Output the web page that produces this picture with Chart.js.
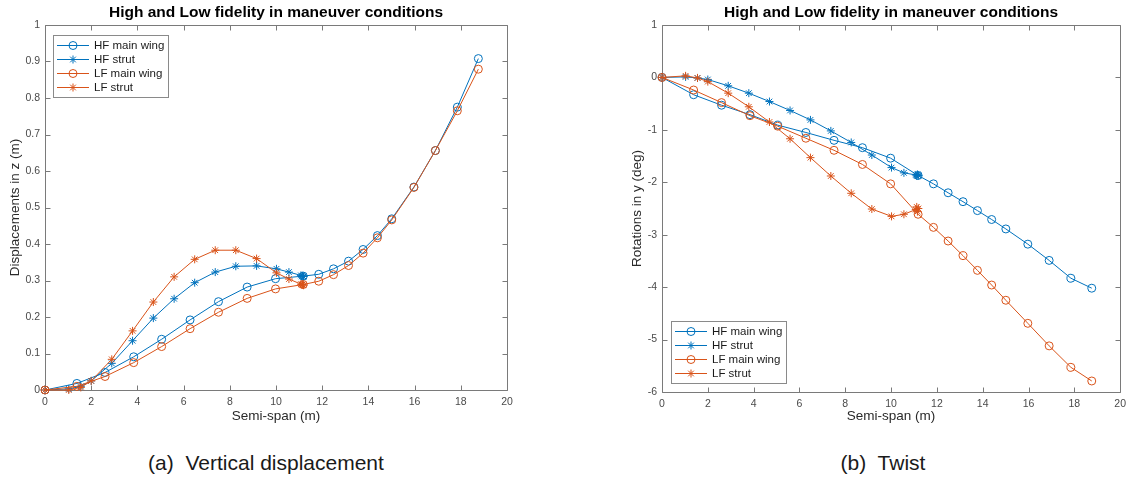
<!DOCTYPE html>
<html>
<head>
<meta charset="utf-8">
<script src="https://cdn.jsdelivr.net/npm/chart.js@4.4.1/dist/chart.umd.min.js"></script>
<style>
  html, body { margin: 0; padding: 0; background: #fff; }
  body { width: 1132px; height: 477px; position: relative; overflow: hidden;
         font-family: "Liberation Sans", Arial, Helvetica, sans-serif; }
  canvas { position: absolute; top: 0; }
  #dispChart { left: 0; }
  #twistChart { left: 560px; }
  .caption { position: absolute; top: 451px; font-size: 21px; line-height: 24px;
             color: #1a1a1a; white-space: pre; transform: translateX(-50%); }
</style>
</head>
<body>
<canvas id="dispChart" width="560" height="440"></canvas>
<canvas id="twistChart" width="572" height="440"></canvas>
<div class="caption" style="left:266px">(a)  Vertical displacement</div>
<div class="caption" style="left:883px">(b)  Twist</div>

<script>
// Spanwise stations (m)
const spanMain  = [0, 1.38, 2.6, 3.84, 5.05, 6.28, 7.51, 8.75, 9.98, 11.18, 11.85, 12.49, 13.14, 13.77, 14.39, 15.01, 15.97, 16.9, 17.85, 18.76];
const spanStrut = [0, 1.03, 1.55, 2.0, 2.89, 3.79, 4.69, 5.59, 6.48, 7.37, 8.26, 9.16, 10.02, 10.56, 11.08, 11.12, 11.15, 11.19];

// Vertical displacement (m)
const dispHFMain  = [0, 0.018, 0.048, 0.091, 0.139, 0.192, 0.242, 0.282, 0.305, 0.312, 0.317, 0.332, 0.353, 0.385, 0.423, 0.469, 0.556, 0.656, 0.775, 0.908];
const dispHFStrut = [0, 0.003, 0.010, 0.025, 0.073, 0.135, 0.197, 0.250, 0.294, 0.323, 0.339, 0.340, 0.332, 0.323, 0.314, 0.311, 0.313, 0.311];
const dispLFMain  = [0, 0.010, 0.037, 0.075, 0.119, 0.168, 0.213, 0.251, 0.277, 0.289, 0.298, 0.316, 0.341, 0.375, 0.417, 0.466, 0.555, 0.656, 0.765, 0.879];
const dispLFStrut = [0, 0.000, 0.007, 0.025, 0.084, 0.162, 0.241, 0.310, 0.358, 0.383, 0.383, 0.360, 0.321, 0.304, 0.290, 0.288, 0.289, 0.287];

// Twist (deg)
const twistHFMain  = [0, -0.33, -0.53, -0.71, -0.91, -1.05, -1.20, -1.34, -1.54, -1.87, -2.03, -2.20, -2.37, -2.54, -2.71, -2.89, -3.18, -3.49, -3.83, -4.02];
const twistHFStrut = [0, 0.01, -0.01, -0.04, -0.16, -0.30, -0.46, -0.63, -0.81, -1.02, -1.24, -1.48, -1.72, -1.82, -1.86, -1.88, -1.85, -1.87];
const twistLFMain  = [0, -0.24, -0.48, -0.73, -0.93, -1.16, -1.39, -1.66, -2.03, -2.61, -2.86, -3.12, -3.40, -3.68, -3.96, -4.25, -4.69, -5.12, -5.53, -5.79];
const twistLFStrut = [0, 0.03, -0.01, -0.08, -0.30, -0.56, -0.85, -1.17, -1.53, -1.88, -2.21, -2.51, -2.65, -2.61, -2.52, -2.47, -2.56, -2.50];

// Tick values
const spanTicks  = [0, 2, 4, 6, 8, 10, 12, 14, 16, 18, 20];
const dispTicks  = [0, 0.1, 0.2, 0.3, 0.4, 0.5, 0.6, 0.7, 0.8, 0.9, 1];
const twistTicks = [-6, -5, -4, -3, -2, -1, 0, 1];

const seriesLabels = ['HF main wing', 'HF strut', 'LF main wing', 'LF strut'];
const BLUE = '#0072BD';
const ORANGE = '#D95319';
const FONT = '"Liberation Sans", Arial, Helvetica, sans-serif';

function series(label, xs, ys, color, style, order) {
  return {
    label,
    data: xs.map((x, i) => ({ x, y: ys[i] })),
    borderColor: color,
    backgroundColor: 'rgba(0,0,0,0)',
    borderWidth: 1,
    pointStyle: style,
    pointRadius: 4,
    pointHoverRadius: 4,
    pointBorderWidth: 1,
    pointBorderColor: color,
    pointBackgroundColor: 'rgba(0,0,0,0)',
    tension: 0,
    clip: false,
    order
  };
}

function drawMarker(ctx, style, cx, cy, r) {
  ctx.beginPath();
  if (style === 'circle') {
    ctx.arc(cx, cy, r, 0, Math.PI * 2);
  } else {
    const d = r * Math.SQRT1_2;
    ctx.moveTo(cx - r, cy); ctx.lineTo(cx + r, cy);
    ctx.moveTo(cx, cy - r); ctx.lineTo(cx, cy + r);
    ctx.moveTo(cx - d, cy - d); ctx.lineTo(cx + d, cy + d);
    ctx.moveTo(cx - d, cy + d); ctx.lineTo(cx + d, cy - d);
  }
  ctx.stroke();
}

// Boxed axes with inward ticks, titles and a line+marker legend
const boxedAxes = {
  id: 'boxedAxes',
  beforeDatasetsDraw(chart, args, o) {
    const { ctx, chartArea: a, scales: { x, y } } = chart;
    const L = 5;
    ctx.save();
    ctx.strokeStyle = '#7a7a7a';
    ctx.lineWidth = 1;
    ctx.beginPath();
    const l = Math.round(a.left) + 0.5, r = Math.round(a.right) + 0.5;
    const t = Math.round(a.top) + 0.5, b = Math.round(a.bottom) + 0.5;
    ctx.rect(l, t, r - l, b - t);
    x.ticks.forEach(tk => {
      const px = Math.round(x.getPixelForValue(tk.value)) + 0.5;
      ctx.moveTo(px, b); ctx.lineTo(px, b - L);
      ctx.moveTo(px, t); ctx.lineTo(px, t + L);
    });
    y.ticks.forEach(tk => {
      const py = Math.round(y.getPixelForValue(tk.value)) + 0.5;
      ctx.moveTo(l, py); ctx.lineTo(l + L, py);
      ctx.moveTo(r, py); ctx.lineTo(r - L, py);
    });
    ctx.stroke();
    ctx.restore();
  },
  afterDraw(chart, args, o) {
    const { ctx, chartArea: a } = chart;
    const cx = (a.left + a.right) / 2;
    const cy = (a.top + a.bottom) / 2;
    ctx.save();
    // title
    ctx.fillStyle = '#000';
    ctx.font = 'bold 15.5px ' + FONT;
    ctx.textAlign = 'center';
    ctx.textBaseline = 'alphabetic';
    ctx.fillText(o.title, cx, 17);
    // axis titles
    ctx.fillStyle = '#2a2a2a';
    ctx.font = '13.5px ' + FONT;
    ctx.textBaseline = 'middle';
    ctx.fillText(o.xTitle, cx, 416);
    ctx.save();
    ctx.translate(o.yTitleX, cy);
    ctx.rotate(-Math.PI / 2);
    ctx.fillText(o.yTitle, 0, 0);
    ctx.restore();
    // legend
    const g = o.legend;
    ctx.fillStyle = '#fff';
    ctx.fillRect(g.x, g.y, g.w, g.h);
    ctx.strokeStyle = '#8a8a8a';
    ctx.lineWidth = 1;
    ctx.strokeRect(g.x + 0.5, g.y + 0.5, g.w, g.h);
    ctx.font = '11.5px ' + FONT;
    ctx.textAlign = 'left';
    ctx.textBaseline = 'middle';
    const step = 14.2;
    const first = g.y + g.h / 2 - 1.5 * step;
    chart.data.datasets.forEach((ds, i) => {
      const ry = Math.round(first + i * step) + 0.5;
      ctx.strokeStyle = ds.borderColor;
      ctx.lineWidth = 1;
      ctx.beginPath();
      ctx.moveTo(g.x + 4, ry); ctx.lineTo(g.x + 36, ry);
      ctx.stroke();
      drawMarker(ctx, ds.pointStyle, g.x + 20, ry, 4);
      ctx.fillStyle = '#1a1a1a';
      ctx.fillText(ds.label, g.x + 41, ry);
    });
    ctx.restore();
  }
};

function makeChart(id, spec) {
  const tickFont = { family: FONT, size: 10.5 };
  return new Chart(document.getElementById(id), {
    type: 'line',
    data: {
      datasets: [
        series(seriesLabels[0], spanMain,  spec.hfMain,  BLUE,   'circle', 4),
        series(seriesLabels[1], spanStrut, spec.hfStrut, BLUE,   'star',   3),
        series(seriesLabels[2], spanMain,  spec.lfMain,  ORANGE, 'circle', 2),
        series(seriesLabels[3], spanStrut, spec.lfStrut, ORANGE, 'star',   1)
      ]
    },
    options: {
      responsive: false,
      animation: false,
      devicePixelRatio: 1,
      layout: { padding: { left: 0, right: spec.padRight, top: 25, bottom: 0 } },
      plugins: {
        legend: { display: false },
        tooltip: { enabled: false },
        boxedAxes: spec.deco
      },
      scales: {
        x: {
          type: 'linear',
          min: 0, max: 20,
          afterBuildTicks: s => { s.ticks = spanTicks.map(v => ({ value: v })); },
          afterFit: s => { s.height = spec.xHeight; },
          grid: { display: false, drawTicks: false },
          border: { display: false },
          ticks: { font: tickFont, color: '#4a4a4a', padding: 6, maxRotation: 0, autoSkip: false,
                   callback: v => String(v) }
        },
        y: {
          type: 'linear',
          min: spec.yMin, max: spec.yMax,
          afterBuildTicks: s => { s.ticks = spec.yTicks.map(v => ({ value: v })); },
          afterFit: s => { s.width = spec.yWidth; },
          grid: { display: false, drawTicks: false },
          border: { display: false },
          ticks: { font: tickFont, color: '#4a4a4a', padding: 5, autoSkip: false,
                   callback: v => String(Math.round(v * 10) / 10) }
        }
      }
    },
    plugins: [boxedAxes]
  });
}

makeChart('dispChart', {
  hfMain: dispHFMain, hfStrut: dispHFStrut, lfMain: dispLFMain, lfStrut: dispLFStrut,
  yMin: 0, yMax: 1, yTicks: dispTicks, yWidth: 45, padRight: 53, xHeight: 50,
  deco: {
    title: 'High and Low fidelity in maneuver conditions',
    xTitle: 'Semi-span (m)',
    yTitle: 'Displacements in z (m)',
    yTitleX: 15,
    legend: { x: 53, y: 35, w: 115, h: 62 }
  }
});

makeChart('twistChart', {
  hfMain: twistHFMain, hfStrut: twistHFStrut, lfMain: twistLFMain, lfStrut: twistLFStrut,
  yMin: -6, yMax: 1, yTicks: twistTicks, yWidth: 102, padRight: 8, xHeight: 48,
  deco: {
    title: 'High and Low fidelity in maneuver conditions',
    xTitle: 'Semi-span (m)',
    yTitle: 'Rotations in y (deg)',
    yTitleX: 77,
    legend: { x: 111, y: 321, w: 115, h: 62 }
  }
});
</script>
</body>
</html>
